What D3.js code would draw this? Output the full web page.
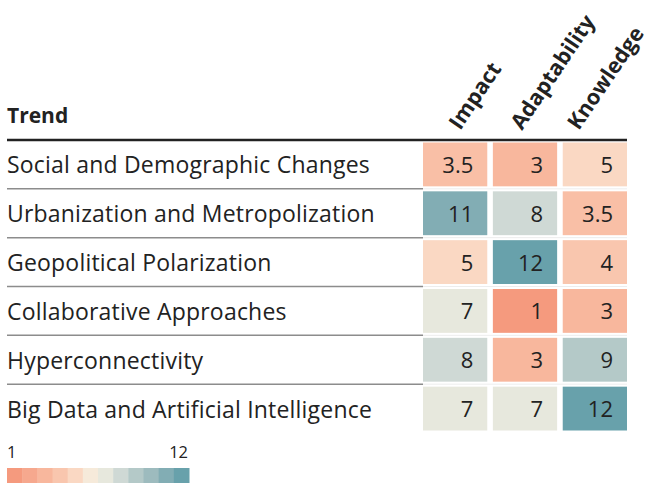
<!DOCTYPE html>
<html>
<head>
<meta charset="utf-8">
<script src="https://cdn.jsdelivr.net/npm/d3@7"></script>
<style>
    body { margin: 0; background: #fff; }
    svg { display: block; font-family: "Open Sans", sans-serif; }
</style>
</head>
<body>
<svg id="chart" width="650" height="483"></svg>
<script>
    // data
    const trends = [
        "Social and Demographic Changes",
        "Urbanization and Metropolization",
        "Geopolitical Polarization",
        "Collaborative Approaches",
        "Hyperconnectivity",
        "Big Data and Artificial Intelligence"
    ];
    const columns = ["Impact", "Adaptability", "Knowledge"];
    const impact = [3.5, 11, 5, 7, 8, 7];
    const adaptability = [3, 8, 12, 1, 3, 7];
    const knowledge = [5, 3.5, 4, 3, 9, 12];
    const legendSteps = [1, 2, 3, 4, 5, 6, 7, 8, 9, 10, 11, 12];
    const palette = ["#f59a7e", "#f6a88e", "#f8b79d", "#f9c6ae", "#fad8c3", "#f6eada",
                     "#e7e8dd", "#cfd9d5", "#b4c9c8", "#9dbbbe", "#82adb4", "#68a1ab"];

    const series = [impact, adaptability, knowledge];

    let svg = d3.select("#chart");

    let x = d3.scaleBand().domain(columns).range([423, 627]).paddingInner(0.08);
    let y = d3.scaleBand().domain(trends).range([140, 433]);
    let color = d3.scaleLinear().domain(legendSteps).range(palette).clamp(true);

    let cells = [];
    trends.forEach((t, i) => {
        columns.forEach((c, j) => {
            cells.push({ trend: t, col: c, value: series[j][i] });
        });
    });

    // faint grid in the gaps
    svg.append("g").selectAll("line")
        .data(trends.slice(1))
        .join("line")
        .attr("x1", 423).attr("x2", 627)
        .attr("y1", d => y(d)).attr("y2", d => y(d))
        .attr("stroke", "#ededed").attr("stroke-width", 1);

    svg.append("g").selectAll("rect")
        .data(cells)
        .join("rect")
        .attr("x", d => x(d.col))
        .attr("y", d => y(d.trend) + 2.5)
        .attr("width", x.bandwidth())
        .attr("height", y.bandwidth() - 5)
        .attr("fill", d => color(d.value));

    svg.append("g").selectAll("text")
        .data(cells)
        .join("text")
        .attr("x", d => x(d.col) + x.bandwidth() - 14)
        .attr("y", d => y(d.trend) + y.bandwidth() / 2 + 8.5)
        .attr("text-anchor", "end")
        .attr("font-size", 22)
        .attr("fill", "#222")
        .text(d => d.value);

    // row labels
    svg.append("g").selectAll("text")
        .data(trends)
        .join("text")
        .attr("x", 7)
        .attr("y", d => y(d) + y.bandwidth() / 2 + 9)
        .attr("font-size", 23)
        .attr("letter-spacing", 0.2)
        .attr("fill", "#222")
        .text(d => d);

    // row separators
    svg.append("g").selectAll("line")
        .data(trends.slice(1))
        .join("line")
        .attr("x1", 7).attr("x2", 423)
        .attr("y1", d => y(d)).attr("y2", d => y(d))
        .attr("stroke", "#8c8c8c").attr("stroke-width", 1.5);

    // header
    svg.append("text")
        .attr("x", 7).attr("y", 123)
        .attr("font-size", 21).attr("font-weight", 700)
        .attr("fill", "#222")
        .text("Trend");

    svg.append("line")
        .attr("x1", 7).attr("x2", 627)
        .attr("y1", 140).attr("y2", 140)
        .attr("stroke", "#222").attr("stroke-width", 2.5);

    const headerNudge = [5, -3, -16];
    svg.append("g").selectAll("text")
        .data(columns)
        .join("text")
        .attr("transform", (d, i) => `translate(${x(d) + x.bandwidth() / 2 + headerNudge[i]},131) rotate(-56)`)
        .attr("font-size", 21.5).attr("font-weight", 700)
        .attr("fill", "#222")
        .text(d => d);

    // legend
    let lx = d3.scaleBand().domain(legendSteps).range([7, 189]);
    svg.append("g").selectAll("rect")
        .data(legendSteps)
        .join("rect")
        .attr("x", d => lx(d))
        .attr("y", 468)
        .attr("width", lx.bandwidth() + 0.5)
        .attr("height", 15)
        .attr("fill", d => color(d));

    svg.append("text")
        .attr("x", 7).attr("y", 458)
        .attr("font-size", 16.5).attr("fill", "#222")
        .text(legendSteps[0]);
    svg.append("text")
        .attr("x", 188).attr("y", 458)
        .attr("text-anchor", "end")
        .attr("font-size", 16.5).attr("fill", "#222")
        .text(legendSteps[legendSteps.length - 1]);
</script>
</body>
</html>
